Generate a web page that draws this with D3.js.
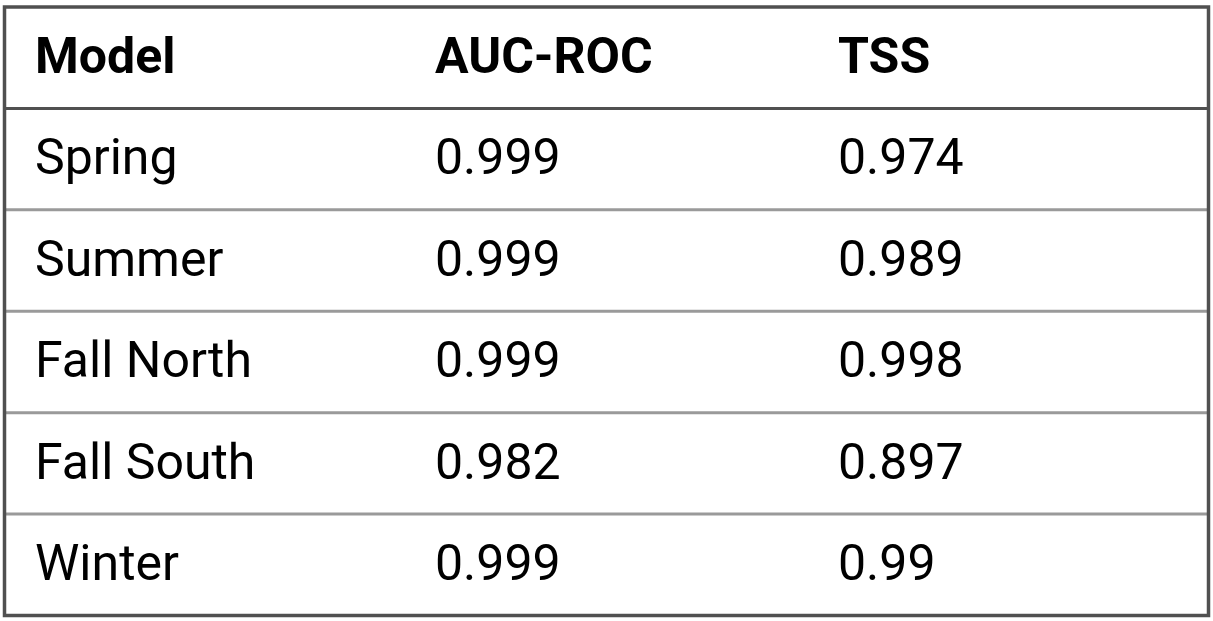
<!DOCTYPE html>
<html>
<head>
<meta charset="utf-8">
<script src="https://cdn.jsdelivr.net/npm/d3@7"></script>
<style>
  body { margin: 0; background: #fff; }
  text { font-family: Roboto, "Open Sans", sans-serif; }
</style>
</head>
<body>
<svg id="chart" width="1213" height="621"></svg>
<script>
const columns = ["Model", "AUC-ROC", "TSS"];
const models = ["Spring", "Summer", "Fall North", "Fall South", "Winter"];
const aucRoc = ["0.999", "0.999", "0.999", "0.982", "0.999"];
const tss = ["0.974", "0.989", "0.998", "0.897", "0.99"];

const svg = d3.select("#chart");
const tblLeft = 4.5, tblRight = 1208.5, tblTop = 7, tblBottom = 615.5;

// header + 5 data rows
const rowKeys = ["header"].concat(models);
const y = d3.scaleBand().domain(rowKeys).range([tblTop, tblBottom]);
const x = d3.scaleOrdinal().domain(columns).range([35, 435, 838]);

const rows = [columns].concat(models.map((m, i) => [m, aucRoc[i], tss[i]]));

// row separators
svg.selectAll("line.sep")
  .data(rowKeys.slice(1))
  .join("line")
  .attr("class", "sep")
  .attr("x1", tblLeft).attr("x2", tblRight)
  .attr("y1", d => y(d)).attr("y2", d => y(d))
  .attr("stroke", (d, i) => i === 0 ? "#505050" : "#9a9a9a")
  .attr("stroke-width", 3);

// outer border
svg.append("rect")
  .attr("x", tblLeft).attr("y", tblTop)
  .attr("width", tblRight - tblLeft).attr("height", tblBottom - tblTop)
  .attr("fill", "none")
  .attr("stroke", "#505050")
  .attr("stroke-width", 3.5);

const g = svg.selectAll("g.row")
  .data(rows)
  .join("g")
  .attr("class", "row")
  .attr("transform", (d, i) => `translate(0,${y(rowKeys[i]) + 66})`);

g.selectAll("text")
  .data((d, i) => d.map((v, j) => ({ v, col: columns[j], header: i === 0 })))
  .join("text")
  .attr("x", d => x(d.col))
  .attr("font-size", 50)
  .attr("font-weight", d => d.header ? 700 : 400)
  .attr("fill", "#000")
  .text(d => d.v);
</script>
</body>
</html>
